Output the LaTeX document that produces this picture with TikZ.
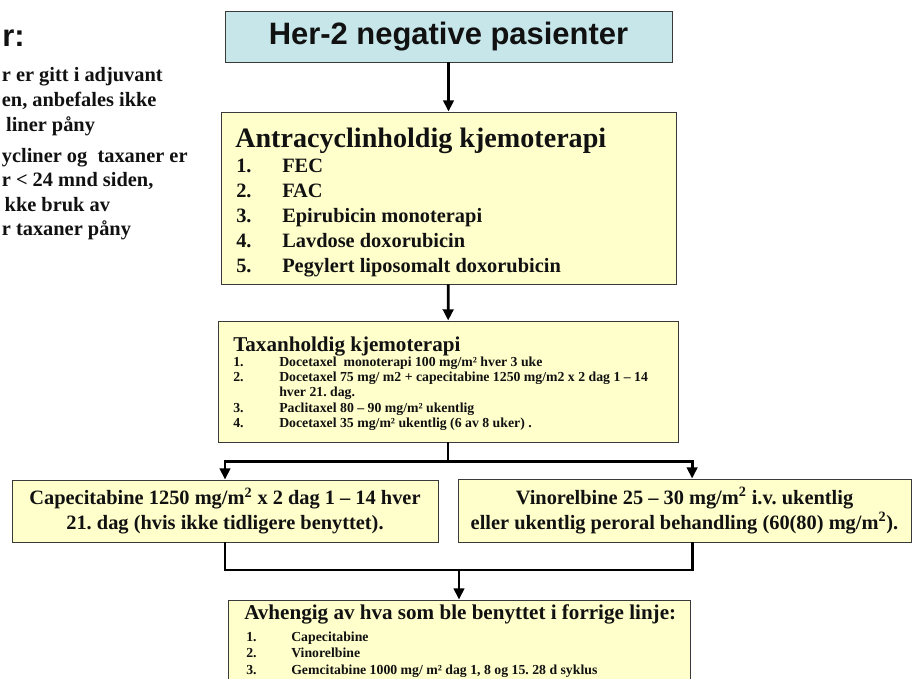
\documentclass[tikz,border=0pt]{standalone}
\usepackage{fontspec}
\setmainfont{Liberation Serif}
\setsansfont{Liberation Sans}
\usepackage{tikz}
\usetikzlibrary{arrows.meta,positioning,calc}
\definecolor{boxCyan}{HTML}{C6E6EA}
\definecolor{boxYellow}{HTML}{FFFFCC}
\definecolor{rim}{HTML}{3A3A3A}
\definecolor{ink}{HTML}{111111}
\newcommand{\fsz}[2]{\fontsize{#1}{#2}\selectfont}

\begin{document}
\frenchspacing
\begin{tikzpicture}[>={Triangle[width=7.5pt,length=8pt]},
  box/.style={draw=rim,line width=0.7pt,inner sep=0pt,align=center,text=ink},
  txt/.style={anchor=base west,inner sep=0pt,text=ink},
  link/.style={draw=black,line width=2pt}]
\useasboundingbox (0,0) rectangle (22.8,-16.975);
% left margin : note, cut by the page edge
\node[txt,font=\sffamily\bfseries\fsz{22}{26}] (noteHead) at (0.05,-1.175) {r:};
\node[txt,font=\bfseries\fsz{14.5}{17.5}] (noteOne) at (0.04,-2.05)
  {\begin{tabular}[t]{@{}l@{}}r er gitt i adjuvant\\en, anbefales ikke\\\hspace{3pt}liner påny\end{tabular}};
\node[txt,font=\bfseries\fsz{14.5}{17.5}] (noteTwo) at (0.04,-4.05)
  {\begin{tabular}[t]{@{}l@{}}ycliner og\ \ taxaner er\\r < 24 mnd siden,\\\hspace{2pt}kke bruk av\\r taxaner påny\end{tabular}};
% top : patient group
\node[box,fill=boxCyan,minimum width=11.175cm,minimum height=1.275cm,font=\sffamily\bfseries\fsz{22}{26}] (her2) at (11.2125,-0.9125) {Her-2 negative pasienter};
% first line : anthracyclines
\node[box,fill=boxYellow,minimum width=11.375cm,minimum height=4.3cm] (antra) at (11.2125,-4.95) {};
\node[txt,font=\bfseries\fsz{20}{24}] (antraTitle) at (5.875,-3.675) {Antracyclinholdig kjemoterapi};
\node[txt,font=\bfseries\fsz{14.5}{17.8}] (antraList) at (5.9,-4.3)
  {\begin{tabular}[t]{@{}p{1.15cm}@{}l@{}}1.&FEC\\2.&FAC\\3.&Epirubicin monoterapi\\4.&Lavdose doxorubicin\\5.&Pegylert liposomalt doxorubicin\end{tabular}};
% second line : taxanes
\node[box,fill=boxYellow,minimum width=11.5cm,minimum height=3.025cm] (taxan) at (11.2,-9.5375) {};
\node[txt,font=\bfseries\fsz{15}{18}] (taxanTitle) at (5.825,-8.775) {Taxanholdig kjemoterapi};
\node[txt,font=\bfseries\fsz{9.8}{11}] (taxanList) at (5.825,-9.15)
  {\begin{tabular}[t]{@{}p{1.15cm}@{}l@{}}1.&Docetaxel\ \ monoterapi 100 mg/m² hver 3 uke\\
  2.&Docetaxel 75 mg/ m2 + capecitabine 1250 mg/m2 x 2 dag 1 -- 14\\
  &hver 21. dag.\\
  3.&Paclitaxel 80 -- 90 mg/m² ukentlig\\
  4.&Docetaxel 35 mg/m² ukentlig (6 av 8 uker) .\end{tabular}};
% third line : two alternatives
\node[box,fill=boxYellow,minimum width=10.65cm,minimum height=1.55cm,font=\bfseries\fsz{14.5}{17.8}] (cape) at (5.625,-12.775)
  {Capecitabine 1250 mg/m\textsuperscript{2} x 2 dag 1 -- 14 hver\\21. dag (hvis ikke tidligere benyttet).};
\node[box,fill=boxYellow,minimum width=11.325cm,minimum height=1.575cm,font=\bfseries\fsz{14.5}{17.8}] (vino) at (17.1125,-12.7625)
  {Vinorelbine 25 -- 30 mg/m\textsuperscript{2} i.v. ukentlig\\eller ukentlig peroral behandling (60(80) mg/m\textsuperscript{2}).};
% fourth line : depends on earlier choice
\node[box,fill=boxYellow,minimum width=11.55cm,minimum height=2.5cm] (avh) at (11.475,-16.25) {};
\node[txt,font=\bfseries\fsz{15}{18}] (avhTitle) at (6.1,-15.475) {Avhengig av hva som ble benyttet i forrige linje:};
\node[txt,font=\bfseries\fsz{9.8}{11.8}] (avhList) at (6.15,-16.025)
  {\begin{tabular}[t]{@{}p{1.125cm}@{}l@{}}1.&Capecitabine\\2.&Vinorelbine\\3.&Gemcitabine 1000 mg/ m² dag 1, 8 og 15. 28 d syklus\end{tabular}};
% connectors
\draw[link,->] (her2) -- (antra);
\draw[link,->] (antra) -- (taxan);
\coordinate (fork) at ($(taxan.south)+(0,-0.475)$);
\draw[link] (taxan.south) -- (fork);
\draw[link,->] (fork) -| (cape.north);
\draw[link,->] (fork) -| ([xshift=0.19cm]vino.north);
\coordinate (merge) at (11.475,-14.25);
\draw[link] (cape.south) |- (merge) -| ([xshift=0.19cm]vino.south);
\draw[link,->] (merge) -- (avh.north);
\end{tikzpicture}
\end{document}
